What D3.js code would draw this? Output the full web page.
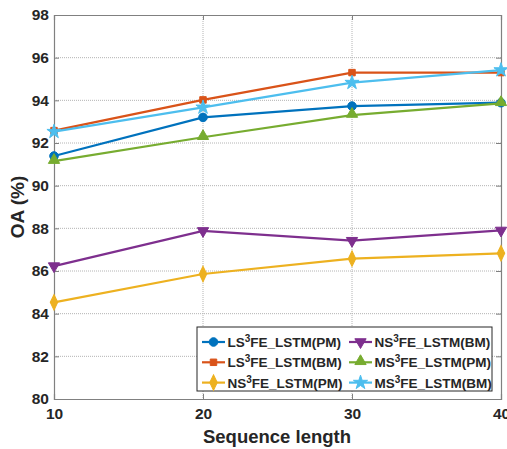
<!DOCTYPE html>
<html><head><meta charset="utf-8">
<script src="https://cdn.jsdelivr.net/npm/d3@7"></script>
<style>body{margin:0;background:#fff;} svg{display:block;font-family:"Liberation Sans",Arial,sans-serif;}</style>
</head><body>
<svg id="c" width="507" height="449"></svg>
<script>
const xValues = [10, 20, 30, 40];
const yTicks = [80, 82, 84, 86, 88, 90, 92, 94, 96, 98];
const lsPM = [91.39, 93.2, 93.73, 93.89];
const lsBM = [92.58, 94.02, 95.3, 95.3];
const nsPM = [84.53, 85.86, 86.58, 86.83];
const nsBM = [86.23, 87.88, 87.42, 87.9];
const msPM = [91.15, 92.27, 93.31, 93.86];
const msBM = [92.53, 93.67, 94.83, 95.42];
const seriesNames = ["LS|FE_LSTM(PM)", "LS|FE_LSTM(BM)", "NS|FE_LSTM(PM)", "NS|FE_LSTM(BM)", "MS|FE_LSTM(PM)", "MS|FE_LSTM(BM)"];
const series = [
  {name: seriesNames[0], values: lsPM, color: "#0072BD", marker: "circle"},
  {name: seriesNames[1], values: lsBM, color: "#D95319", marker: "square"},
  {name: seriesNames[2], values: nsPM, color: "#EDB120", marker: "diamond"},
  {name: seriesNames[3], values: nsBM, color: "#7E2F8E", marker: "tridown"},
  {name: seriesNames[4], values: msPM, color: "#77AC30", marker: "triangle"},
  {name: seriesNames[5], values: msBM, color: "#4DBEEE", marker: "star"}
];

const svg = d3.select("#c");
const L = 54, R = 501, T = 15, B = 399;
const x = d3.scaleLinear().domain([10, 40]).range([L, R]);
const y = d3.scaleLinear().domain([80, 98]).range([B, T]);
const textCol = "#262626", axisCol = "#808080";

// grid
svg.append("g").selectAll("line").data(yTicks.slice(1, -1)).join("line")
  .attr("x1", L).attr("x2", R).attr("y1", d => y(d)).attr("y2", d => y(d))
  .attr("stroke", "#b4b4b4").attr("stroke-width", 1).attr("stroke-dasharray", "1,1");
svg.append("g").selectAll("line").data(xValues.slice(1, -1)).join("line")
  .attr("y1", T).attr("y2", B).attr("x1", d => x(d)).attr("x2", d => x(d))
  .attr("stroke", "#b4b4b4").attr("stroke-width", 1).attr("stroke-dasharray", "1,1");

// axes
svg.append("g").attr("transform", `translate(0,${B})`)
  .call(d3.axisBottom(x).tickValues(xValues).tickSize(-5).tickPadding(9).tickFormat(d3.format("d")));
svg.append("g").attr("transform", `translate(${L},0)`)
  .call(d3.axisLeft(y).tickValues(yTicks).tickSize(-5).tickPadding(5).tickFormat(d3.format("d")));
svg.append("g").attr("transform", `translate(0,${T})`)
  .call(d3.axisTop(x).tickValues(xValues).tickSize(-5).tickFormat(""));
svg.append("g").attr("transform", `translate(${R},0)`)
  .call(d3.axisRight(y).tickValues(yTicks).tickSize(-5).tickFormat(""));
svg.selectAll(".domain").attr("stroke", axisCol).attr("stroke-width", 1.2);
svg.selectAll(".tick line").attr("stroke", axisCol);
svg.selectAll(".tick text").attr("fill", textCol).attr("font-size", 15.5).attr("font-weight", "bold")
  .attr("font-family", "Liberation Sans, Arial, sans-serif");

// labels
svg.append("text").attr("x", 277).attr("y", 443).attr("text-anchor", "middle")
  .attr("font-size", 18.5).attr("font-weight", "bold").attr("fill", textCol).text("Sequence length");
svg.append("text").attr("transform", `translate(19,${(T + B) / 2}) rotate(-90)`).attr("text-anchor", "middle")
  .attr("dominant-baseline", "middle")
  .attr("font-size", 19).attr("font-weight", "bold").attr("fill", textCol).text("OA (%)");

function drawMarker(g, type, color, cx, cy) {
  let sym;
  if (type === "circle") sym = d3.symbol(d3.symbolCircle, 58);
  else if (type === "square") sym = d3.symbol(d3.symbolSquare, 42);
  else if (type === "diamond") sym = d3.symbol(d3.symbolDiamond, 48);
  else if (type === "triangle" || type === "tridown") sym = d3.symbol(d3.symbolTriangle, 55);
  else sym = d3.symbol(d3.symbolStar, 62);
  let tr = `translate(${cx},${cy})`;
  if (type === "tridown") tr += " rotate(180)";
  if (type === "triangle") tr = `translate(${cx},${cy-1})`;
  if (type === "diamond") tr += " scale(1,1.2)";
  g.append("path").attr("d", sym()).attr("transform", tr).attr("fill", color).attr("stroke", color).attr("stroke-width", 1);
}

const line = d3.line().x((d, i) => x(xValues[i])).y(d => y(d));
series.forEach(s => {
  const g = svg.append("g");
  g.append("path").attr("d", line(s.values)).attr("fill", "none").attr("stroke", s.color).attr("stroke-width", 2.2);
  s.values.forEach((v, i) => drawMarker(g, s.marker, s.color, x(xValues[i]), y(v)));
});

// legend
const lg = svg.append("g");
lg.append("rect").attr("x", 197).attr("y", 327).attr("width", 295).attr("height", 64)
  .attr("fill", "#fff").attr("stroke", "#262626").attr("stroke-width", 1);
const order = [0, 3, 1, 4, 2, 5];
order.forEach((si, k) => {
  const s = series[si];
  const col = k % 2, row = Math.floor(k / 2);
  const lx = col === 0 ? 202 : 349;
  const ly = 342 + row * 20.3;
  lg.append("line").attr("x1", lx).attr("x2", lx + 23).attr("y1", ly).attr("y2", ly)
    .attr("stroke", s.color).attr("stroke-width", 2.2);
  drawMarker(lg, s.marker, s.color, lx + 11.5, ly);
  const parts = s.name.split("|");
  const t = lg.append("text").attr("x", lx + 25.5).attr("y", ly + 5).attr("font-size", 13.5)
    .attr("font-weight", "bold").attr("fill", textCol);
  t.append("tspan").text(parts[0]);
  t.append("tspan").attr("dy", -5).attr("font-size", 10).text("3");
  t.append("tspan").attr("dy", 5).text(parts[1]);
});
</script>
</body></html>
